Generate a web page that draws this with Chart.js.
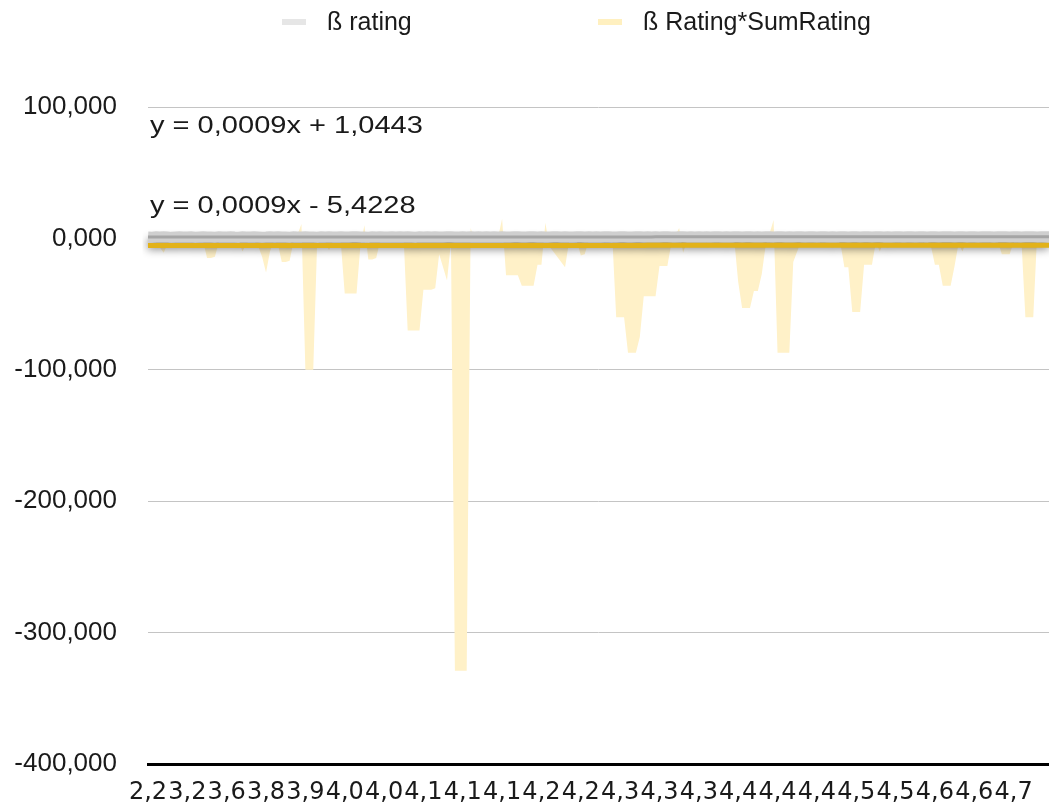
<!DOCTYPE html>
<html>
<head>
<meta charset="utf-8">
<title>ß rating</title>
<script src="https://cdn.jsdelivr.net/npm/chart.js@4.4.1/dist/chart.umd.min.js"></script>
<style>
  html, body { margin: 0; padding: 0; background: #ffffff; }
  #wrap { width: 1049px; height: 807px; position: relative; }
</style>
</head>
<body>
<div id="wrap"><canvas id="chart"></canvas></div>
<script>
// Rating labels shown along the x axis (one every POINTS_PER_TICK points)
const tickLabels = ['2,2','3,2','3,6','3,8','3,9','4,0','4,0','4,1','4,1','4,1','4,2','4,2',
                    '4,3','4,3','4,3','4,4','4,4','4,4','4,5','4,5','4,6','4,6','4,7'];
const POINTS_PER_TICK = 10;

// ß rating per observation
const betaRating = [
  1.1, 0.9, 1.2, 1.0, 1.3, 1.1, 0.8, 1.0, 1.2, 1.1,
  1.0, 1.2, 0.9, 1.1, 1.3, 1.0, 1.1, 0.9, 1.2, 1.0,
  1.1, 1.3, 1.0, 0.9, 1.2, 1.1, 1.0, 1.2, 1.1, 0.9,
  1.0, 1.2, 1.1, 1.3, 1.0, 1.1, 0.9, 1.2, 1.1, 1.0,
  1.2, 1.1, 1.0, 0.9, 1.3, 1.1, 1.2, 1.0, 1.1, 1.2,
  1.0, 1.1, 1.3, 1.2, 1.0, 1.1, 0.9, 1.2, 1.1, 1.3,
  1.1, 1.0, 1.2, 1.1, 1.3, 1.0, 1.2, 1.1, 0.9, 1.2,
  1.1, 1.3, 1.0, 1.2, 1.1, 1.0, 1.2, 1.3, 1.1, 1.0,
  1.2, 1.1, 1.3, 1.0, 1.2, 1.1, 1.2, 1.0, 1.3, 1.1,
  1.2, 1.0, 1.1, 1.3, 1.2, 1.1, 1.0, 1.2, 1.3, 1.1,
  1.2, 1.1, 1.0, 1.3, 1.2, 1.1, 1.2, 1.0, 1.1, 1.3,
  1.2, 1.1, 1.3, 1.0, 1.2, 1.1, 1.3, 1.2, 1.0, 1.1,
  1.3, 1.2, 1.1, 1.0, 1.2, 1.3, 1.1, 1.2, 1.0, 1.2,
  1.1, 1.3, 1.2, 1.1, 1.0, 1.2, 1.3, 1.1, 1.2, 1.1,
  1.3, 1.0, 1.2, 1.1, 1.3, 1.2, 1.1, 1.2, 1.0, 1.3,
  1.2, 1.1, 1.3, 1.2, 1.0, 1.2, 1.1, 1.3, 1.2, 1.1,
  1.2, 1.3, 1.1, 1.2, 1.0, 1.3, 1.2, 1.1, 1.2, 1.3,
  1.1, 1.2, 1.3, 1.0, 1.2, 1.1, 1.3, 1.2, 1.1, 1.3,
  1.2, 1.1, 1.2, 1.3, 1.0, 1.2, 1.3, 1.1, 1.2, 1.1,
  1.3, 1.2, 1.1, 1.3, 1.2, 1.0, 1.3, 1.2, 1.1, 1.2,
  1.3, 1.1, 1.2, 1.3, 1.2, 1.1, 1.3, 1.2, 1.0, 1.3,
  1.2, 1.1, 1.3, 1.2, 1.3, 1.1, 1.2, 1.3, 1.2, 1.1,
  1.3, 1.2, 1.1, 1.3, 1.2, 1.3, 1.1, 1.2, 1.3, 1.2
];

// ß Rating*SumRating per observation
const ratingTimesSum = [
    -2,   -1,   -3,   -7,  -11,   -4,   -1,   -2,    1,   -2,
    -1,   -3,    2,   -1,   -2,  -15,  -15,  -14,   -3,   -1,
     1,   -2,    3,   -1,  -10,   -4,   -1,   -2,   -6,  -14,
   -26,  -10,   -2,   -4,  -18,  -18,  -17,   -2,    3,   11,
  -100, -100, -100,   -2,    1,   -2,   -9,   -2,   -2,   -3,
   -42,  -42,  -42,  -42,   -5,   10,  -16,  -16,  -15,   -2,
    -2,   -1,    1,   -3,   -2,   -1,  -70,  -70,  -70,  -70,
   -39,  -39,  -39,  -38,  -12,  -22,  -32,   -3, -329, -329,
  -329, -329,    8,   -2,   -1,    2,   -3,   -1,   -2,    1,
    15,  -28,  -28,  -28,  -28,  -36,  -36,  -36,  -36,  -20,
   -20,   12,   -6,  -10,  -14,  -18,  -22,   -3,    1,   -2,
   -13,  -12,   -2,    1,   -2,   -1,   -3,   -2,    1,  -60,
   -60,  -60,  -87,  -87,  -87,  -75,  -44,  -44,  -44,  -44,
   -21,  -21,  -21,   -4,    2,    8,  -11,   -2,   -1,   -2,
     1,   -2,   -3,   -1,    2,   -2,   -1,   -3,   -2,   -1,
   -33,  -53,  -53,  -53,  -40,  -40,  -27,   -5,    4,   14,
   -87,  -87,  -87,  -87,  -18,  -10,   -2,   -1,    2,   -2,
    -1,   -3,   -2,    1,   -2,   -1,   -4,  -22,  -22,  -56,
   -56,  -56,  -20,  -20,  -20,   -3,  -10,   -2,   -1,    2,
    -2,   -1,   -3,   -2,    1,   -2,   -1,   -3,   -2,   -6,
   -20,  -20,  -36,  -36,  -36,  -21,   -4,  -10,   -2,   -1,
     1,   -2,   -1,   -2,   -3,   -1,   -2,  -12,  -12,  -12,
    -3,   -1,   -2,  -60,  -60,  -60,    4,   -2,   -1,   -2
];

// Linear trend lines (x = 1-based observation number)
const trendBeta    = { slope: 0.0009, intercept: 1.0443 };
const trendProduct = { slope: 0.0009, intercept: -5.4228 };
const trendTexts   = ['y = 0,0009x + 1,0443', 'y = 0,0009x - 5,4228'];

const seriesNames = ['ß rating', 'ß Rating*SumRating'];
const yAxisTicks = [100, 0, -100, -200, -300, -400];

// ---------------------------------------------------------------
const FONT = '"Liberation Sans", "Helvetica Neue", Helvetica, Arial, sans-serif';
const WIDE = '"DejaVu Sans", "Liberation Sans", sans-serif';
const TEXT = '#1a1a1a';
const COLORS = {
  betaLine: '#cfcfcf',
  betaLegend: '#e6e6e6',
  betaTrend: '#a5a5a5',
  productFill: '#fff1c8',
  productLegend: '#fff0c0',
  productTrend: '#e2b21a'
};

const categories = ratingTimesSum.map((_, i) => tickLabels[Math.floor(i / POINTS_PER_TICK)]);
const trendValues = t => categories.map((_, i) => t.slope * (i + 1) + t.intercept);
const fmt = v => v.toFixed(3).replace('.', ',');

// soft drop shadow under datasets flagged with `shadow`
const shadowPlugin = {
  id: 'lineShadow',
  beforeDatasetDraw(chart, args) {
    const ds = chart.data.datasets[args.index];
    if (!ds.shadow) return;
    const ctx = chart.ctx;
    ctx.save();
    ctx.shadowColor = 'rgba(0,0,0,0.45)';
    ctx.shadowBlur = 8;
    ctx.shadowOffsetY = 7;
  },
  afterDatasetDraw(chart, args) {
    const ds = chart.data.datasets[args.index];
    if (ds.shadow) chart.ctx.restore();
  }
};

// legend row and trend-line equations
const annotationPlugin = {
  id: 'legendAndEquations',
  afterDraw(chart) {
    const ctx = chart.ctx;
    const area = chart.chartArea;
    ctx.save();
    ctx.font = '25px ' + FONT;
    ctx.fillStyle = TEXT;
    ctx.textBaseline = 'middle';
    ctx.textAlign = 'left';

    const items = [
      { text: seriesNames[0], color: COLORS.betaLegend, x: 282 },
      { text: seriesNames[1], color: COLORS.productLegend, x: 598 }
    ];
    items.forEach(it => {
      ctx.fillStyle = it.color;
      ctx.fillRect(it.x, 19, 24, 6);
      ctx.fillStyle = TEXT;
      ctx.fillText(it.text, it.x + 45, 23);
    });

    // equations are set in a slightly wide face
    ctx.font = '24px ' + FONT;
    const stretch = 1.21;
    [[trendTexts[0], 19], [trendTexts[1], 99]].forEach(([t, dy]) => {
      ctx.save();
      ctx.translate(area.left + 2, area.top + dy);
      ctx.scale(stretch, 1);
      ctx.fillText(t, 0, 0);
      ctx.restore();
    });
    ctx.restore();
  }
};

new Chart(document.getElementById('chart'), {
  type: 'line',
  data: {
    labels: categories,
    datasets: [
      {
        label: seriesNames[1],
        data: ratingTimesSum,
        fill: 'origin',
        backgroundColor: COLORS.productFill,
        borderWidth: 0,
        borderColor: 'rgba(0,0,0,0)',
        pointRadius: 0,
        tension: 0,
        order: 4
      },
      {
        label: seriesNames[0],
        data: betaRating,
        fill: false,
        borderColor: COLORS.betaLine,
        borderWidth: 11,
        pointRadius: 0,
        tension: 0,
        shadow: true,
        order: 3
      },
      {
        label: 'trend ' + seriesNames[0],
        data: trendValues(trendBeta),
        fill: false,
        borderColor: COLORS.betaTrend,
        borderWidth: 3,
        pointRadius: 0,
        order: 2
      },
      {
        label: 'trend ' + seriesNames[1],
        data: trendValues(trendProduct),
        fill: false,
        borderColor: COLORS.productTrend,
        borderWidth: 5,
        pointRadius: 0,
        order: 1
      }
    ]
  },
  options: {
    responsive: true,
    maintainAspectRatio: false,
    animation: false,
    events: [],
    layout: { padding: { top: 107, left: 0, right: 0, bottom: 0 } },
    plugins: {
      legend: { display: false },
      tooltip: { enabled: false },
      title: { display: false }
    },
    scales: {
      x: {
        type: 'category',
        offset: false,
        grid: { display: false, drawTicks: false },
        border: { display: true, color: '#000000', width: 3 },
        ticks: {
          autoSkip: false,
          maxRotation: 0,
          minRotation: 0,
          padding: 14,
          color: TEXT,
          font: { family: WIDE, size: 24 },
          callback: (v, i) => (i % POINTS_PER_TICK === 0 ? categories[i] : '')
        },
        afterFit: s => { s.height = 43; s.paddingLeft = 0; s.paddingRight = 0; }
      },
      y: {
        min: Math.min(...yAxisTicks),
        max: Math.max(...yAxisTicks),
        grid: { color: '#c4c4c4', lineWidth: 1, drawTicks: false },
        border: { display: false },
        afterBuildTicks: s => { s.ticks = yAxisTicks.map(v => ({ value: v })); },
        ticks: {
          padding: 31,
          color: TEXT,
          font: { family: FONT, size: 26 },
          callback: v => fmt(v)
        },
        afterFit: s => { s.width = 148; s.paddingTop = 0; s.paddingBottom = 0; }
      }
    }
  },
  plugins: [shadowPlugin, annotationPlugin]
});
</script>
</body>
</html>
